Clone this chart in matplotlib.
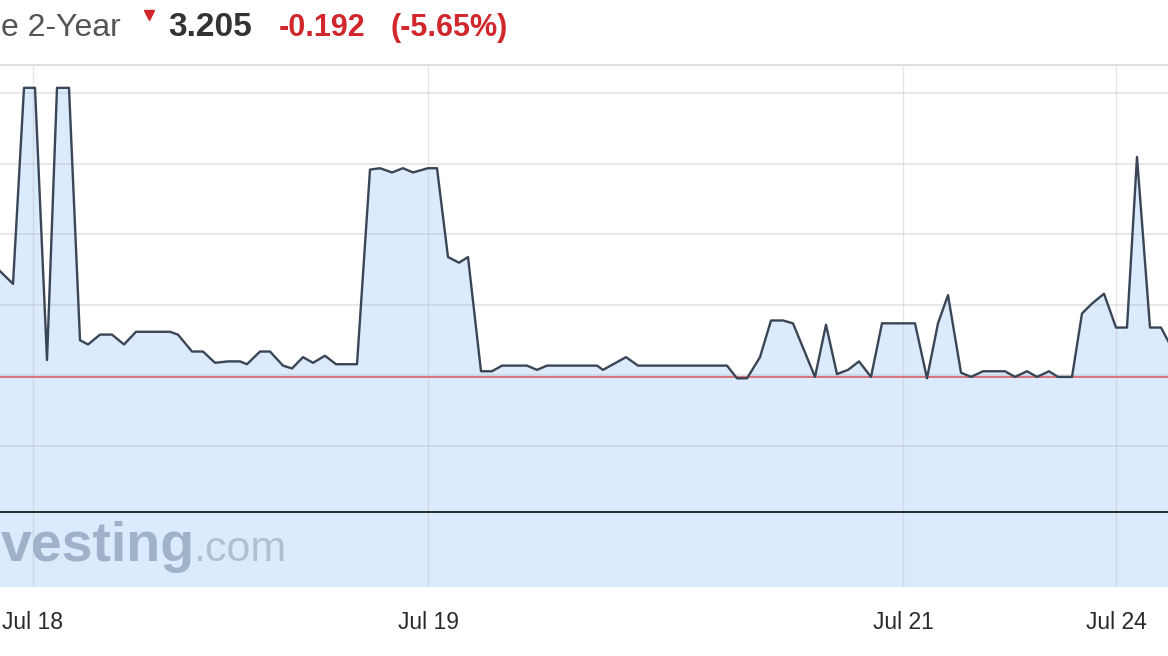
import matplotlib
matplotlib.use("Agg")
import matplotlib.pyplot as plt

# ---- data ----
# time index (arbitrary session units) and yield values
t = [0.0, 1.3, 2.4, 3.5, 4.7, 5.7, 6.9, 8.0, 8.8, 10.0, 11.2, 12.4, 13.6, 17.0, 17.8,
     19.2, 20.3, 21.5, 22.8, 24.0, 24.7, 26.0, 27.0, 28.3, 29.2, 30.3, 31.3, 32.5,
     33.6, 35.7, 37.0, 38.0, 39.2, 40.3, 41.3, 42.8, 43.7, 44.8, 45.9, 46.8, 48.1,
     49.2, 50.2, 52.7, 53.7, 54.7, 59.7, 60.3, 62.6, 63.8, 72.7, 73.7, 74.7, 76.0,
     77.1, 78.3, 79.3, 81.5, 82.6, 83.7, 84.8, 85.9, 87.1, 88.2, 91.5, 92.7, 93.8,
     94.8, 96.1, 97.1, 98.3, 100.5, 101.5, 102.7, 103.7, 104.9, 105.8, 107.2, 108.2,
     109.2, 110.4, 111.6, 112.7, 113.7, 115.0, 116.1, 117.0]
yields = [3.274, 3.265, 3.404, 3.404, 3.211, 3.404, 3.404, 3.225, 3.222, 3.229, 3.229,
          3.222, 3.231, 3.231, 3.229, 3.217, 3.217, 3.209, 3.210, 3.210, 3.208, 3.217,
          3.217, 3.207, 3.205, 3.213, 3.209, 3.214, 3.208, 3.208, 3.346, 3.347, 3.344,
          3.347, 3.344, 3.347, 3.347, 3.284, 3.280, 3.284, 3.203, 3.203, 3.207, 3.207,
          3.204, 3.207, 3.207, 3.204, 3.213, 3.207, 3.207, 3.198, 3.198, 3.213, 3.239,
          3.239, 3.237, 3.199, 3.236, 3.201, 3.204, 3.210, 3.199, 3.237, 3.237, 3.198,
          3.237, 3.257, 3.202, 3.199, 3.203, 3.203, 3.199, 3.203, 3.199, 3.203, 3.199,
          3.199, 3.244, 3.251, 3.258, 3.234, 3.234, 3.355, 3.234, 3.234, 3.222]
tick_pos = [3.3, 42.8, 90.3, 111.6]
tick_labels = ["Jul 18", "Jul 19", "Jul 21", "Jul 24"]
grid_levels = [3.15, 3.20, 3.25, 3.30, 3.35, 3.40]
red_level = 3.199
black_level = 3.103

title_name = "e 2-Year"
price = "3.205"
change = "-0.192"
change_pct = "(-5.65%)"
watermark_main = "vesting"
watermark_tail = ".com"

W, H = 1168, 656
fig = plt.figure(figsize=(W / 100, H / 100), dpi=100)
fig.patch.set_facecolor("white")
ax = fig.add_axes([0, 1 - 587 / H, 1, (587 - 65) / H])

ymin, ymax = 3.05, 3.4202
ax.set_xlim(0, 116.8)
ax.set_ylim(ymin, ymax)

ax.fill_between(t, yields, ymin, color="#dbeafc", zorder=1, lw=0)
for g in grid_levels:
    ax.axhline(g, color="#b0b0b0", alpha=0.32, lw=1.3, zorder=2)
for p in tick_pos:
    ax.axvline(p, color="#b0b0b0", alpha=0.3, lw=1.0, zorder=2)
ax.axhline(red_level, color="#d9737a", lw=1.4, zorder=3)
ax.axhline(black_level, color="#1a1a1a", lw=1.3, zorder=3)
ax.plot(t, yields, color="#3a4556", lw=1.7, zorder=4, solid_joinstyle="round")

ax.set_xticks(tick_pos)
ax.set_xticklabels(tick_labels, fontfamily="Liberation Sans", fontsize=16.5, color="#2a2a2a")
ax.tick_params(axis="x", length=0, pad=17)
ax.set_yticks([])
for s in ["left", "right", "bottom"]:
    ax.spines[s].set_visible(False)
ax.spines["top"].set_color("#e0e0e0")
ax.spines["top"].set_linewidth(1.5)
ax.set_facecolor("white")


def px(x, y):
    return x / W, 1 - y / H


# watermark
fig.text(*px(1, 561), watermark_main, fontfamily="Liberation Sans",
         fontweight="bold", fontsize=40, color="#9fb2ca", ha="left", va="baseline",
         zorder=1.5)
fig.text(*px(193, 561), watermark_tail, fontfamily="Liberation Sans", fontsize=31,
         color="#b0bfd2", ha="left", va="baseline", zorder=1.5)

# header
fig.text(*px(1, 36), title_name, fontfamily="Liberation Sans", fontsize=23,
         color="#555555", ha="left", va="baseline")
fig.text(*px(168, 36), price, fontfamily="Liberation Sans", fontsize=24,
         fontweight="bold", color="#333333", ha="left", va="baseline")
fig.text(*px(279, 36), change, fontfamily="Liberation Sans", fontsize=22,
         fontweight="bold", color="#d0262c", ha="left", va="baseline")
fig.text(*px(390, 36), change_pct, fontfamily="Liberation Sans", fontsize=22,
         fontweight="bold", color="#d0262c", ha="left", va="baseline")
fig.lines.append(plt.Line2D([149 / W], [1 - 15 / H], transform=fig.transFigure,
                            marker="v", markersize=7, color="#d0262c", ls=""))

fig.savefig("out.png", dpi=100)
